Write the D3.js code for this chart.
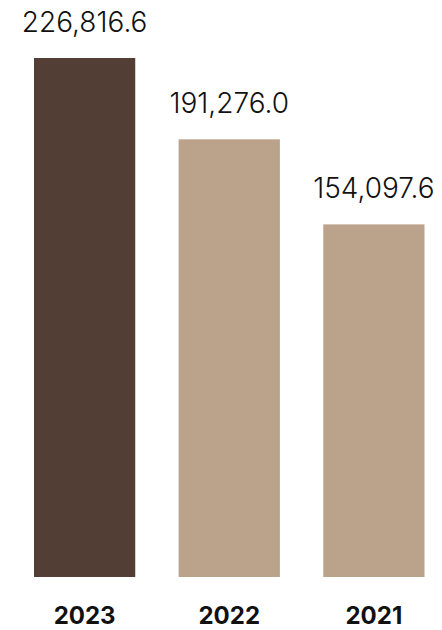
<!DOCTYPE html>
<html>
<head>
<meta charset="utf-8">
<script src="https://cdn.jsdelivr.net/npm/d3@7"></script>
<style>
  html, body { margin: 0; padding: 0; background: #fff; }
  svg { display: block; }
</style>
</head>
<body>
<div id="chart"></div>
<script>
// Données
const years = ["2023", "2022", "2021"];
const values = [226816.6, 191276.0, 154097.6];
const valueLabels = ["226,816.6", "191,276.0", "154,097.6"];
const barColors = ["#523e34", "#bba28b", "#bba28b"];

const CONFIG = {
    width: 442,
    height: 630,
    left: 34,
    right: 424.5,
    top: 58,
    bottom: 577
};

const svg = d3.select("#chart").append("svg")
    .attr("width", CONFIG.width)
    .attr("height", CONFIG.height);

const x = d3.scaleBand()
    .domain(years)
    .range([CONFIG.left, CONFIG.right])
    .paddingInner(0.3)
    .paddingOuter(0);

// y commence à zéro, la plus haute barre touche le haut
const y = d3.scaleLinear()
    .domain([0, d3.max(values)])
    .range([CONFIG.bottom, CONFIG.top]);

const rows = years.map((yr, i) => ({ year: yr, value: values[i], label: valueLabels[i], color: barColors[i] }));

// Barres
svg.selectAll(".bar")
    .data(rows)
    .enter()
    .append("rect")
    .attr("class", "bar")
    .attr("x", d => x(d.year))
    .attr("y", d => y(d.value))
    .attr("width", x.bandwidth())
    .attr("height", d => y(0) - y(d.value))
    .attr("fill", d => d.color);

// Valeurs au-dessus des barres
svg.selectAll(".value")
    .data(rows)
    .enter()
    .append("text")
    .attr("class", "value")
    .attr("x", d => x(d.year) + x.bandwidth() / 2)
    .attr("y", d => y(d.value) - 26)
    .attr("text-anchor", "middle")
    .attr("font-family", "Inter, 'Open Sans', sans-serif")
    .attr("font-weight", 300)
    .attr("font-size", 28)
    .attr("fill", "#111")
    .text(d => d.label);

// Axe des années (sans ligne ni ticks)
const xAxis = svg.append("g")
    .attr("transform", `translate(0,${CONFIG.bottom})`)
    .call(d3.axisBottom(x).tickSize(0).tickPadding(47));

xAxis.select(".domain").remove();
xAxis.selectAll("text")
    .attr("font-family", "Inter, 'Open Sans', sans-serif")
    .attr("font-weight", 700)
    .attr("font-size", 24)
    .attr("fill", "#111")
    .attr("dy", "0");
</script>
</body>
</html>
